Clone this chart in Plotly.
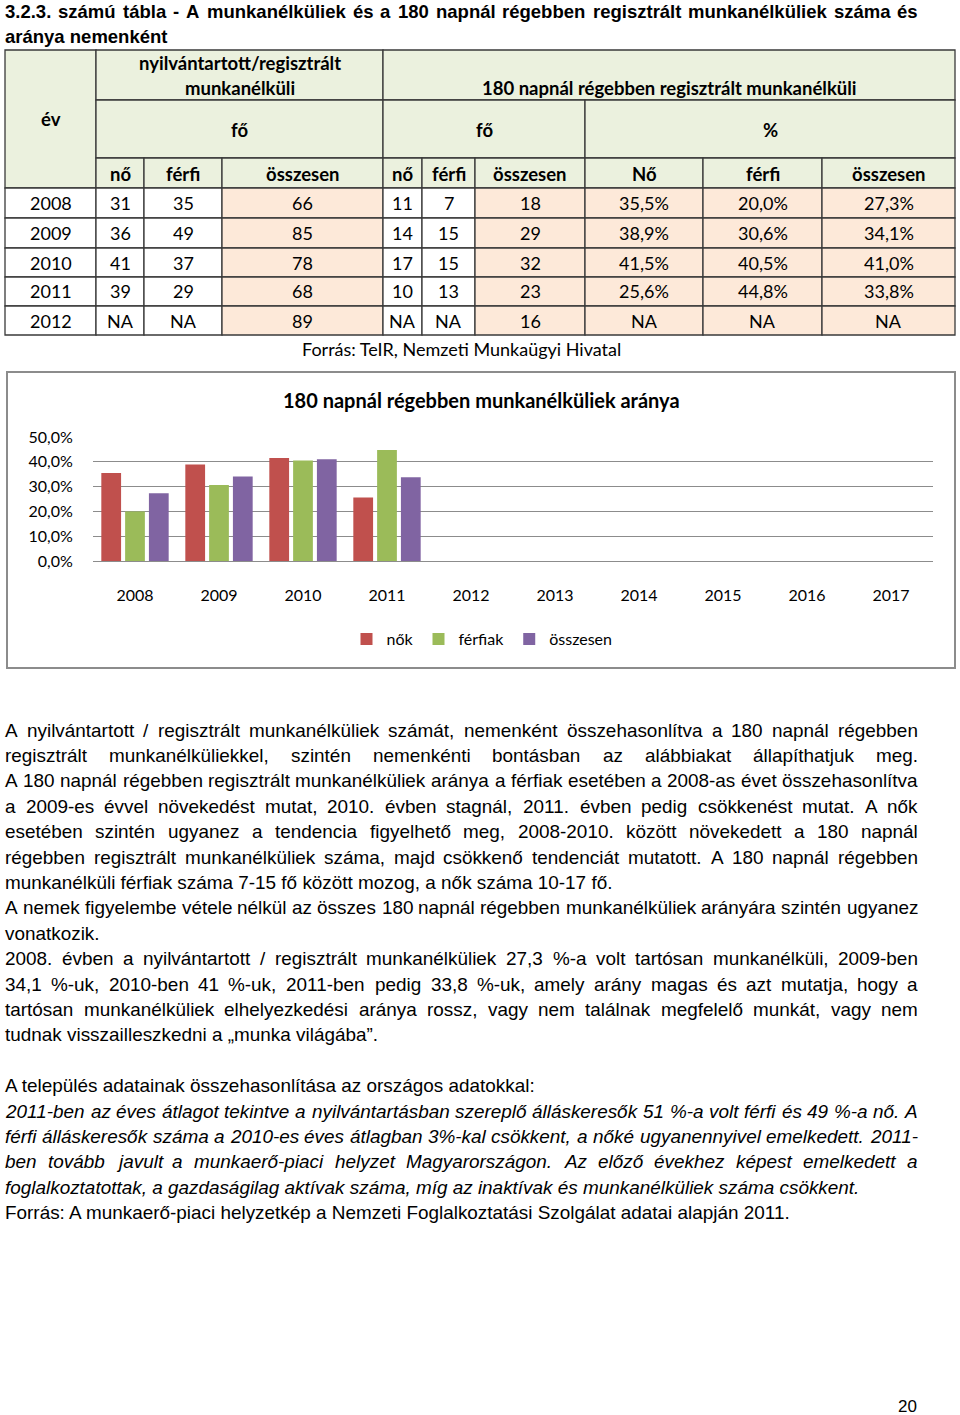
import unicodedata
import plotly.graph_objects as go

W, H = 960, 1415

# ---------------- data ----------------
chart_years = ["2008", "2009", "2010", "2011", "2012", "2013", "2014", "2015", "2016", "2017"]
nok_pct = [35.5, 38.9, 41.5, 25.6, None, None, None, None, None, None]
ferfi_pct = [20.0, 30.6, 40.5, 44.8, None, None, None, None, None, None]
osszesen_pct = [27.3, 34.1, 41.0, 33.8, None, None, None, None, None, None]
series_names = ["nők", "férfiak", "összesen"]
series_colors = ["#C0504D", "#9BBB59", "#8064A2"]
y_ticks = [0, 10, 20, 30, 40, 50]

table_years = ["2008", "2009", "2010", "2011", "2012"]
reg_no = [31, 36, 41, 39, None]
reg_ferfi = [35, 49, 37, 29, None]
reg_osszesen = [66, 85, 78, 68, 89]
tart_no = [11, 14, 17, 10, None]
tart_ferfi = [7, 15, 15, 13, None]
tart_osszesen = [18, 29, 32, 23, 16]
tart_pct_no = [35.5, 38.9, 41.5, 25.6, None]
tart_pct_ferfi = [20.0, 30.6, 40.5, 44.8, None]
tart_pct_osszesen = [27.3, 34.1, 41.0, 33.8, None]

title_lines = [
    "3.2.3. számú tábla - A munkanélküliek és a 180 napnál régebben regisztrált munkanélküliek száma és",
    "aránya nemenként",
]
head_top = ["nyilvántartott/regisztrált", "munkanélküli", "180 napnál régebben regisztrált munkanélküli"]
head_mid = ["év", "fő", "fő", "%"]
head_sub = ["nő", "férfi", "összesen", "nő", "férfi", "összesen", "Nő", "férfi", "összesen"]
source_table = "Forrás: TeIR, Nemzeti Munkaügyi Hivatal"
chart_title = "180 napnál régebben munkanélküliek aránya"

# (text, justified, italic)
body_lines = [
    ("A nyilvántartott / regisztrált munkanélküliek számát, nemenként összehasonlítva a  180 napnál régebben", True, False),
    ("regisztrált munkanélküliekkel, szintén nemenkénti bontásban az alábbiakat állapíthatjuk meg.", True, False),
    ("A 180 napnál régebben regisztrált munkanélküliek aránya a férfiak esetében a 2008-as évet összehasonlítva", True, False),
    ("a 2009-es évvel növekedést mutat, 2010. évben stagnál, 2011. évben pedig csökkenést mutat. A nők", True, False),
    ("esetében szintén ugyanez a tendencia figyelhető meg, 2008-2010. között növekedett a 180 napnál", True, False),
    ("régebben regisztrált munkanélküliek száma, majd csökkenő tendenciát mutatott.  A 180 napnál régebben", True, False),
    ("munkanélküli férfiak száma 7-15 fő között mozog, a nők száma 10-17 fő.", False, False),
    ("A nemek figyelembe vétele nélkül az összes 180 napnál régebben munkanélküliek arányára szintén ugyanez", True, False),
    ("vonatkozik.", False, False),
    ("2008. évben a nyilvántartott / regisztrált munkanélküliek 27,3 %-a volt tartósan munkanélküli, 2009-ben", True, False),
    ("34,1 %-uk, 2010-ben 41 %-uk, 2011-ben pedig 33,8 %-uk, amely arány magas és azt mutatja, hogy a", True, False),
    ("tartósan munkanélküliek elhelyezkedési aránya rossz, vagy nem találnak megfelelő munkát, vagy nem", True, False),
    ("tudnak visszailleszkedni a „munka világába”.", False, False),
    ("", False, False),
    ("A település adatainak összehasonlítása az országos adatokkal:", False, False),
    ("2011-ben az éves átlagot tekintve a nyilvántartásban szereplő álláskeresők 51 %-a volt férfi és 49 %-a nő.  A", True, True),
    ("férfi álláskeresők száma a 2010-es éves átlagban  3%-kal csökkent,  a nőké ugyanennyivel emelkedett. 2011-", True, True),
    ("ben tovább javult a munkaerő-piaci helyzet Magyarországon. Az előző évekhez képest emelkedett a", True, True),
    ("foglalkoztatottak, a gazdaságilag aktívak száma, míg az inaktívak és munkanélküliek száma csökkent.", False, True),
    ("Forrás: A munkaerő-piaci helyzetkép a Nemzeti Foglalkoztatási Szolgálat adatai alapján 2011.", False, False),
]
page_number = "20"

# ---------------- helpers ----------------
def fmt_int(v):
    return "NA" if v is None else str(v)


def fmt_pct(v):
    return "NA" if v is None else (f"{v:.1f}%").replace(".", ",")


def px(x):
    return x / W


def py(y):
    return 1 - y / H


REG_W = {' ': 278, '%': 889, ',': 278, '-': 333, '.': 278, '/': 278, ':': 278, '„': 333, '”': 333,
         'A': 667, 'B': 667, 'C': 722, 'D': 722, 'E': 667, 'F': 611, 'G': 778, 'H': 722, 'I': 278,
         'J': 500, 'K': 667, 'L': 556, 'M': 833, 'N': 722, 'O': 778, 'P': 667, 'R': 722, 'S': 667,
         'T': 611, 'U': 722, 'V': 667, 'W': 944, 'Z': 611,
         'a': 556, 'b': 556, 'c': 500, 'd': 556, 'e': 556, 'f': 278, 'g': 556, 'h': 556, 'i': 222,
         'í': 278, 'j': 222, 'k': 500, 'l': 222, 'm': 833, 'n': 556, 'o': 556, 'p': 556, 'q': 556,
         'r': 333, 's': 500, 't': 278, 'u': 556, 'v': 500, 'w': 722, 'x': 500, 'y': 500, 'z': 500}
BOLD_W = {' ': 278, '%': 889, ',': 278, '-': 333, '.': 278, '/': 278, ':': 333,
          'A': 722, 'a': 556, 'b': 611, 'c': 556, 'd': 611, 'e': 556, 'f': 333, 'g': 611, 'h': 611,
          'i': 278, 'í': 278, 'j': 278, 'k': 556, 'l': 278, 'm': 889, 'n': 611, 'o': 611, 'p': 611,
          'q': 611, 'r': 389, 's': 556, 't': 333, 'u': 611, 'v': 556, 'w': 778, 'x': 556, 'y': 556,
          'z': 500}


def units(s, table):
    tot = 0
    for ch in s:
        if ch in table:
            tot += table[ch]
        elif ch.isdigit():
            tot += 556
        else:
            base = unicodedata.normalize("NFD", ch)[0]
            tot += table.get(base, 556)
    return tot / 1000.0


annotations = []
shapes = []


def ann(x, y, text, size, family="Lato", weight="normal", style="normal", xanchor="center", color="#000000"):
    annotations.append(dict(
        x=px(x), y=py(y), xref="paper", yref="paper", text=text, showarrow=False,
        xanchor=xanchor, yanchor="middle", borderpad=0, borderwidth=0,
        font=dict(family=family, size=size, color=color, weight=weight, style=style),
    ))


def text_line(text, x0, x1, yc, size, table, justify, weight="normal", style="normal"):
    family = "Liberation Sans"
    if not text:
        return
    if not justify:
        ann(x0, yc, text, size, family, weight, style, xanchor="left")
        return
    words = text.split()
    widths = [units(w, table) * size for w in words]
    gap = (x1 - x0 - sum(widths)) / (len(words) - 1)
    x = x0
    for i, (w, wd) in enumerate(zip(words, widths)):
        if i == len(words) - 1:
            ann(x1, yc, w, size, family, weight, style, xanchor="right")
        else:
            ann(x, yc, w, size, family, weight, style, xanchor="left")
        x += wd + gap


def fit_size(lines, table, target, max_size):
    s = max_size
    for t in lines:
        u = units(" ".join(t.split()), table)
        s = min(s, target / u)
    return s


# ---------------- page title ----------------
TEXT_X0, TEXT_X1 = 5, 918
title_size = fit_size([title_lines[0]], BOLD_W, TEXT_X1 - TEXT_X0, 18.5)
text_line(title_lines[0], TEXT_X0, TEXT_X1, 12, title_size, BOLD_W, True, weight="bold")
text_line(title_lines[1], TEXT_X0, TEXT_X1, 36, title_size, BOLD_W, False, weight="bold")

# ---------------- table ----------------
col_edges = [5, 96, 144, 222, 383, 422, 475, 585, 703, 822, 955]
row_edges = [50, 100, 158, 188, 218, 248, 277, 306, 335]
HEAD_FILL = "#EBF1DE"
PEACH = "#FDE9D9"
WHITE = "#FFFFFF"
BORDER = "#3A3A3A"


def cell(x0, x1, y0, y1, fill):
    shapes.append(dict(type="rect", xref="paper", yref="paper",
                       x0=px(x0), x1=px(x1), y0=py(y1), y1=py(y0),
                       fillcolor=fill, line=dict(color=BORDER, width=1.3), layer="below"))


# header cells
cell(col_edges[0], col_edges[1], row_edges[0], row_edges[3], HEAD_FILL)
cell(col_edges[1], col_edges[4], row_edges[0], row_edges[1], HEAD_FILL)
cell(col_edges[4], col_edges[10], row_edges[0], row_edges[1], HEAD_FILL)
cell(col_edges[1], col_edges[4], row_edges[1], row_edges[2], HEAD_FILL)
cell(col_edges[4], col_edges[7], row_edges[1], row_edges[2], HEAD_FILL)
cell(col_edges[7], col_edges[10], row_edges[1], row_edges[2], HEAD_FILL)
for i in range(1, 10):
    cell(col_edges[i], col_edges[i + 1], row_edges[2], row_edges[3], HEAD_FILL)

HS = 18.5
ann((col_edges[0] + col_edges[1]) / 2, (row_edges[0] + row_edges[3]) / 2, head_mid[0], HS, weight="bold")
ann((col_edges[1] + col_edges[4]) / 2, 63, head_top[0], HS, weight="bold")
ann((col_edges[1] + col_edges[4]) / 2, 88, head_top[1], HS, weight="bold")
ann((col_edges[4] + col_edges[10]) / 2, 88, head_top[2], HS, weight="bold")
ann((col_edges[1] + col_edges[4]) / 2, 130, head_mid[1], HS, weight="bold")
ann((col_edges[4] + col_edges[7]) / 2, 130, head_mid[2], HS, weight="bold")
ann((col_edges[7] + col_edges[10]) / 2, 130, head_mid[3], HS, weight="bold")
for i, t in enumerate(head_sub):
    ann((col_edges[i + 1] + col_edges[i + 2]) / 2, 174, t, HS, weight="bold")

columns = [
    table_years,
    [fmt_int(v) for v in reg_no],
    [fmt_int(v) for v in reg_ferfi],
    [fmt_int(v) for v in reg_osszesen],
    [fmt_int(v) for v in tart_no],
    [fmt_int(v) for v in tart_ferfi],
    [fmt_int(v) for v in tart_osszesen],
    [fmt_pct(v) for v in tart_pct_no],
    [fmt_pct(v) for v in tart_pct_ferfi],
    [fmt_pct(v) for v in tart_pct_osszesen],
]
peach_cols = {3, 6, 7, 8, 9}
for c, vals in enumerate(columns):
    for r, t in enumerate(vals):
        y0, y1 = row_edges[3 + r], row_edges[4 + r]
        cell(col_edges[c], col_edges[c + 1], y0, y1, PEACH if c in peach_cols else WHITE)
        ann((col_edges[c] + col_edges[c + 1]) / 2, (y0 + y1) / 2, t, 18)

ann(461, 349, source_table, 18)

# ---------------- chart ----------------
FRAME = (7, 372, 955, 668)
shapes.append(dict(type="rect", xref="paper", yref="paper",
                   x0=px(FRAME[0]), x1=px(FRAME[2]), y0=py(FRAME[3]), y1=py(FRAME[1]),
                   line=dict(color="#8C8C8C", width=2), fillcolor="rgba(0,0,0,0)", layer="below"))
ann(481, 400, "<b>" + chart_title + "</b>", 20, weight="bold")

fig = go.Figure()
for name, vals, col in zip(series_names, [nok_pct, ferfi_pct, osszesen_pct], series_colors):
    fig.add_trace(go.Bar(x=chart_years, y=vals, name=name, marker=dict(color=col, line=dict(width=0)),
                         hoverinfo="skip"))

PLOT_X0, PLOT_X1 = 93, 933
PLOT_Y_TOP, PLOT_Y_BOT = 437, 561

fig.update_layout(
    width=W, height=H, autosize=False,
    margin=dict(l=0, r=0, t=0, b=0, pad=0, autoexpand=False),
    paper_bgcolor="white", plot_bgcolor="rgba(0,0,0,0)",
    barmode="group", bargap=0.15, bargroupgap=0.17,
    font=dict(family="Lato", color="#000000"),
    xaxis=dict(domain=[px(PLOT_X0), px(PLOT_X1)], type="category", showgrid=False, showline=False,
               zeroline=False, ticks="outside", ticklen=20, tickcolor="rgba(0,0,0,0)", automargin=False,
               tickfont=dict(family="Lato", size=16, color="#000000"), fixedrange=True),
    yaxis=dict(domain=[py(PLOT_Y_BOT), py(PLOT_Y_TOP)], range=[0, 50], tickmode="array",
               tickvals=y_ticks, ticktext=[fmt_pct(v) for v in y_ticks],
               showgrid=True, gridcolor="#8C8C8C", gridwidth=1, automargin=False,
               zeroline=True, zerolinecolor="#8C8C8C", zerolinewidth=1, showline=False,
               ticks="outside", ticklen=16, tickcolor="rgba(0,0,0,0)",
               tickfont=dict(family="Lato", size=16, color="#000000"), fixedrange=True),
    legend=dict(orientation="h", x=px(482), xanchor="center", y=py(639), yanchor="middle",
                font=dict(family="Lato", size=16, color="#000000"), itemwidth=30,
                bgcolor="rgba(0,0,0,0)", traceorder="normal"),
    showlegend=True,
)

# ---------------- body text ----------------
body_size = fit_size([t for t, j, _ in body_lines if j], REG_W, TEXT_X1 - TEXT_X0, 19)
LINE0, LINE_STEP = 730, 25.4
for i, (t, j, it) in enumerate(body_lines):
    text_line(t, TEXT_X0, TEXT_X1, LINE0 + i * LINE_STEP, body_size, REG_W, j,
              style="italic" if it else "normal")

ann(907, 1406, page_number, 17, family="Liberation Sans")

fig.update_layout(annotations=annotations, shapes=shapes)
fig.write_html("out.html", config={"displayModeBar": False},
               post_script="document.body.style.margin='0';document.body.style.overflow='hidden';")
